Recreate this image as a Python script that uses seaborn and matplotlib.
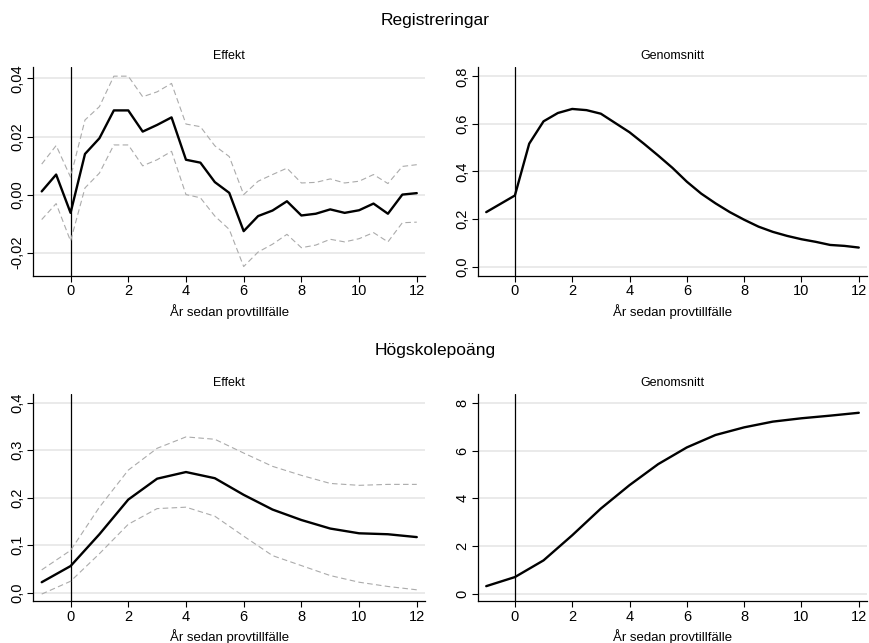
import numpy as np
import pandas as pd
import matplotlib
matplotlib.use("Agg")
import matplotlib.pyplot as plt
import seaborn as sns
from matplotlib.ticker import FuncFormatter

# --- data ---
x_half = [-1, -0.5, 0, 0.5, 1, 1.5, 2, 2.5, 3, 3.5, 4, 4.5, 5, 5.5, 6, 6.5,
          7, 7.5, 8, 8.5, 9, 9.5, 10, 10.5, 11, 11.5, 12]
x_int = [-1, 0, 1, 2, 3, 4, 5, 6, 7, 8, 9, 10, 11, 12]

reg_eff = [0.0011, 0.0069, -0.0063, 0.0140, 0.0194, 0.0290, 0.0290, 0.0217, 0.0240,
           0.0266, 0.0120, 0.0110, 0.0043, 0.0006, -0.0126, -0.0074, -0.0055, -0.0023,
           -0.0072, -0.0066, -0.0051, -0.0063, -0.0054, -0.0031, -0.0066, 0.0000, 0.0005]
reg_hi = [0.0105, 0.0169, 0.0060, 0.0257, 0.0303, 0.0408, 0.0408, 0.0337, 0.0354,
          0.0383, 0.0243, 0.0234, 0.0168, 0.0131, 0.0000, 0.0046, 0.0069, 0.0091,
          0.0040, 0.0042, 0.0054, 0.0040, 0.0046, 0.0069, 0.0038, 0.0097, 0.0103]
reg_lo = [-0.0086, -0.0031, -0.0160, 0.0023, 0.0074, 0.0171, 0.0171, 0.0099, 0.0120,
          0.0149, 0.0000, -0.0011, -0.0074, -0.0120, -0.0248, -0.0198, -0.0171, -0.0137,
          -0.0183, -0.0174, -0.0154, -0.0163, -0.0152, -0.0131, -0.0163, -0.0097, -0.0095]
reg_mean = [0.229, 0.264, 0.299, 0.517, 0.611, 0.646, 0.663, 0.658, 0.643, 0.604,
            0.565, 0.517, 0.467, 0.415, 0.357, 0.307, 0.266, 0.229, 0.197, 0.168,
            0.146, 0.129, 0.115, 0.104, 0.091, 0.087, 0.080]

hp_eff = [0.022, 0.056, 0.123, 0.196, 0.240, 0.254, 0.241, 0.206, 0.175, 0.153,
          0.135, 0.125, 0.123, 0.117]
hp_hi = [0.048, 0.089, 0.180, 0.258, 0.304, 0.328, 0.323, 0.294, 0.266, 0.247,
         0.230, 0.226, 0.228, 0.228]
hp_lo = [-0.003, 0.024, 0.082, 0.144, 0.177, 0.180, 0.161, 0.119, 0.078, 0.057,
         0.036, 0.022, 0.013, 0.006]
hp_mean = [0.32, 0.70, 1.40, 2.45, 3.57, 4.55, 5.43, 6.13, 6.65, 6.97, 7.21, 7.35,
           7.46, 7.58]

xlabel = "År sedan provtillfälle"

sns.set_style("white")
plt.rcParams["font.family"] = ["Liberation Sans", "DejaVu Sans"]
plt.rcParams["text.color"] = "black"
plt.rcParams["axes.labelcolor"] = "black"
plt.rcParams["xtick.color"] = "black"
plt.rcParams["ytick.color"] = "black"

fig = plt.figure(figsize=(8.7, 6.43), dpi=100)

def style_ax(ax, title, yticks, fmt, ylim):
    ax.set_xlim(-1.3, 12.3)
    ax.set_ylim(*ylim)
    ax.set_xticks([0, 2, 4, 6, 8, 10, 12])
    ax.set_yticks(yticks)
    ax.yaxis.set_major_formatter(FuncFormatter(lambda v, p: fmt.format(v).replace(".", ",")))
    ax.grid(axis="y", color="#e6e6e6", lw=1.2)
    ax.set_axisbelow(True)
    for s in ["top", "right"]:
        ax.spines[s].set_visible(False)
    for s in ["left", "bottom"]:
        ax.spines[s].set_color("black")
        ax.spines[s].set_linewidth(0.9)
    ax.tick_params(axis="both", direction="out", length=4, width=0.8, color="black",
                   labelcolor="black", labelsize=10.5, bottom=True, left=True, pad=2)
    for lab in ax.get_yticklabels():
        lab.set_rotation(90)
        lab.set_va("center")
    ax.axvline(0, color="black", lw=0.9, zorder=1)
    ax.set_title(title, fontsize=9, pad=6, color="black")
    ax.set_xlabel(xlabel, fontsize=9.5, labelpad=4)
    ax.set_ylabel("")

dash = dict(color="#ababab", lw=0.8, dashes=(5, 3))
solid = dict(color="black", lw=1.7)

ax1 = fig.add_axes([0.038, 0.571, 0.451, 0.325])
sns.lineplot(x=x_half, y=reg_hi, ax=ax1, **dash)
sns.lineplot(x=x_half, y=reg_lo, ax=ax1, **dash)
sns.lineplot(x=x_half, y=reg_eff, ax=ax1, **solid)
style_ax(ax1, "Effekt", [-0.02, 0, 0.02, 0.04], "{:.2f}", (-0.028, 0.044))

ax2 = fig.add_axes([0.549, 0.571, 0.448, 0.325])
sns.lineplot(x=x_half, y=reg_mean, ax=ax2, **solid)
style_ax(ax2, "Genomsnitt", [0, 0.2, 0.4, 0.6, 0.8], "{:.1f}", (-0.039, 0.84))

ax3 = fig.add_axes([0.038, 0.065, 0.451, 0.322])
sns.lineplot(x=x_int, y=hp_hi, ax=ax3, **dash)
sns.lineplot(x=x_int, y=hp_lo, ax=ax3, **dash)
sns.lineplot(x=x_int, y=hp_eff, ax=ax3, **solid)
style_ax(ax3, "Effekt", [0, 0.1, 0.2, 0.3, 0.4], "{:.1f}", (-0.018, 0.418))

ax4 = fig.add_axes([0.549, 0.065, 0.448, 0.322])
sns.lineplot(x=x_int, y=hp_mean, ax=ax4, **solid)
style_ax(ax4, "Genomsnitt", [0, 2, 4, 6, 8], "{:.0f}", (-0.31, 8.36))

fig.text(0.5, 0.968, "Registreringar", ha="center", va="center", fontsize=12.5)
fig.text(0.5, 0.455, "Högskolepoäng", ha="center", va="center", fontsize=12.5)

fig.savefig("out.png", dpi=100)
